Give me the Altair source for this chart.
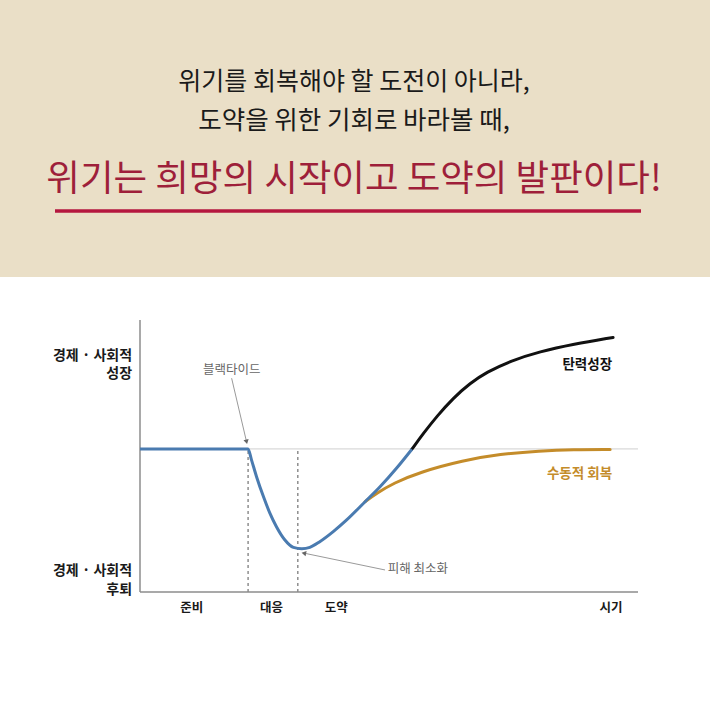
import altair as alt
import pandas as pd

FONT = "Noto Sans CJK KR"

# ---------------- header texts ----------------
header_lines = ["위기를 회복해야 할 도전이 아니라,", "도약을 위한 기회로 바라볼 때,"]
headline = "위기는 희망의 시작이고 도약의 발판이다!"

# ---------------- curve data (time 0-100, level 0-100) ----------------
blue_t = [0, 21.7, 22.4, 23.4, 24.8, 26.1, 27.4, 29.1, 30.8, 32.5, 34.1, 36.1, 38.8, 41.5, 45.2, 48.2, 51.5, 54.6]
blue_v = [52.6, 52.6, 48.5, 42.4, 35.0, 28.9, 24.0, 19.1, 16.4, 15.9, 16.4, 18.5, 22.2, 26.5, 33.2, 38.7, 45.5, 52.5]

black_t = [54.6, 56.9, 59.6, 62.9, 66.3, 69.6, 74.3, 80.3, 87.0, 95.0]
black_v = [52.5, 58.3, 64.6, 71.3, 76.8, 80.8, 84.9, 88.4, 91.1, 93.6]

gold_t = [45.2, 47.5, 50.9, 56.2, 64.9, 72.3, 80.3, 87.0, 94.4]
gold_v = [33.2, 36.3, 40.0, 44.1, 48.4, 50.7, 51.9, 52.4, 52.4]

baseline_v = 52.6
phase_t = [21.7, 31.7]

ylab_text = ["경제 · 사회적", "성장", "경제 · 사회적", "후퇴"]
ylab_v = [86.8, 80.1, 7.8, 0.7]

xlab_text = ["준비", "대응", "도약", "시기"]
xlab_t = [10.4, 26.4, 39.4, 94.6]

# annotations
ann1_text, ann1_t, ann1_v = "블랙타이드", 18.4, 81.6
ann1_line_t, ann1_line_v = [18.4, 21.4], [78.6, 55.2]
ann2_text, ann2_t, ann2_v = "피해 최소화", 55.8, 8.5
ann2_line_t, ann2_line_v = [49.2, 32.9], [8.1, 14.3]
arrow_t = [21.4, 32.9]
arrow_v = [55.2, 14.3]
arrow_angle = [166.7, 281.7]

series_label_text = ["탄력성장", "수동적 회복"]
series_label_t = [94.8, 94.8]
series_label_v = [83.5, 43.4]

BLUE = "#4a7bb0"
GOLD = "#c48c2a"
BLACK = "#111111"
BEIGE = "#eadfc7"
RED = "#9e1f3a"
UNDER = "#b5173f"

X = alt.Scale(domain=[0, 100], range=[140, 638])
Y = alt.Scale(domain=[0, 100], range=[592, 320])

def xe(f="t"):
    return alt.X(f"{f}:Q", scale=X, axis=None)

def ye(f="v"):
    return alt.Y(f"{f}:Q", scale=Y, axis=None)

one = alt.Data(values=[{"a": 1}])

bg = alt.Chart(one).mark_rect(color=BEIGE).encode(
    x=alt.value(0), x2=alt.value(710), y=alt.value(0), y2=alt.value(277))

h1 = alt.Chart(alt.Data(values=[{"s": header_lines[0]}])).mark_text(
    font=FONT, fontSize=25, color="#1a1a1a", align="center", baseline="middle"
).encode(x=alt.value(354), y=alt.value(82), text="s:N")
h2 = alt.Chart(alt.Data(values=[{"s": header_lines[1]}])).mark_text(
    font=FONT, fontSize=25.5, color="#1a1a1a", align="center", baseline="middle"
).encode(x=alt.value(354), y=alt.value(121), text="s:N")
h3 = alt.Chart(alt.Data(values=[{"s": headline}])).mark_text(
    font=FONT, fontSize=36.5, color=RED, align="center", baseline="middle"
).encode(x=alt.value(354), y=alt.value(180), text="s:N")
underline = alt.Chart(one).mark_rule(color=UNDER, strokeWidth=3.5).encode(
    x=alt.value(55), x2=alt.value(641), y=alt.value(211))

# axes
axis_df = pd.DataFrame({"t": [0], "t2": [100], "v": [0], "v2": [100]})
yaxis = alt.Chart(axis_df).mark_rule(color="#8c8c8c", strokeWidth=1.5).encode(
    x=xe(), y=ye(), y2="v2:Q")
xaxis = alt.Chart(axis_df).mark_rule(color="#8c8c8c", strokeWidth=1.5).encode(
    x=xe(), x2="t2:Q", y=ye())

base_df = pd.DataFrame({"t": [0], "t2": [100], "v": [baseline_v]})
baseline = alt.Chart(base_df).mark_rule(color="#cfcfcf", strokeWidth=1).encode(
    x=xe(), x2="t2:Q", y=ye())

phase_df = pd.DataFrame({"t": phase_t, "v": [0, 0], "v2": [baseline_v, baseline_v]})
phases = alt.Chart(phase_df).mark_rule(color="#555555", strokeWidth=1, strokeDash=[3, 3]).encode(
    x=xe(), y=ye(), y2="v2:Q")

gold = alt.Chart(pd.DataFrame({"t": gold_t, "v": gold_v})).mark_line(
    color=GOLD, strokeWidth=3, interpolate="basis", strokeCap="round").encode(x=xe(), y=ye())
black = alt.Chart(pd.DataFrame({"t": black_t, "v": black_v})).mark_line(
    color=BLACK, strokeWidth=3, interpolate="basis", strokeCap="round").encode(x=xe(), y=ye())
blue = alt.Chart(pd.DataFrame({"t": blue_t, "v": blue_v})).mark_line(
    color=BLUE, strokeWidth=3, interpolate="monotone").encode(x=xe(), y=ye())

ylab = alt.Chart(pd.DataFrame({"t": [-1.6] * 4, "v": ylab_v, "s": ylab_text})).mark_text(
    font=FONT, fontSize=14, fontWeight="bold", color="#1a1a1a", align="right", baseline="middle"
).encode(x=xe(), y=ye(), text="s:N")
xlab = alt.Chart(pd.DataFrame({"t": xlab_t, "v": [-5.8] * 4, "s": xlab_text})).mark_text(
    font=FONT, fontSize=12.5, fontWeight="bold", color="#1a1a1a", align="center", baseline="middle"
).encode(x=xe(), y=ye(), text="s:N")

ann_df = pd.DataFrame({"t": [ann1_t, ann2_t], "v": [ann1_v, ann2_v], "s": [ann1_text, ann2_text]})
ann = alt.Chart(ann_df).mark_text(
    font=FONT, fontSize=12.5, color="#666666", align="center", baseline="middle"
).encode(x=xe(), y=ye(), text="s:N")

a1 = alt.Chart(pd.DataFrame({"t": ann1_line_t, "v": ann1_line_v})).mark_line(
    color="#9a9a9a", strokeWidth=1).encode(x=xe(), y=ye())
a2 = alt.Chart(pd.DataFrame({"t": ann2_line_t, "v": ann2_line_v, "o": [0, 1]})).mark_line(
    color="#9a9a9a", strokeWidth=1).encode(x=xe(), y=ye(), order="o:Q")
heads = alt.Chart(pd.DataFrame({"t": arrow_t, "v": arrow_v, "ang": arrow_angle})).mark_point(
    shape="triangle-up", filled=True, size=28, color="#666666", opacity=1).encode(
    x=xe(), y=ye(), angle=alt.Angle("ang:Q", scale=None))

slab_df = pd.DataFrame({"t": series_label_t, "v": series_label_v, "s": series_label_text,
                        "c": [BLACK, GOLD]})
slab = alt.Chart(slab_df).mark_text(
    font=FONT, fontSize=13.5, fontWeight="bold", align="right", baseline="middle"
).encode(x=xe(), y=ye(), text="s:N", color=alt.Color("c:N", scale=None))

chart = alt.layer(
    bg, h1, h2, h3, underline,
    baseline, phases, yaxis, xaxis,
    gold, black, blue,
    a1, a2, heads, ann, ylab, xlab, slab
).properties(
    width=710, height=710,
    autosize=alt.AutoSizeParams(type="none"),
    padding=0, background="white"
).configure_view(stroke=None)

chart.save("out.html", embed_options={"renderer": "svg", "actions": False})
